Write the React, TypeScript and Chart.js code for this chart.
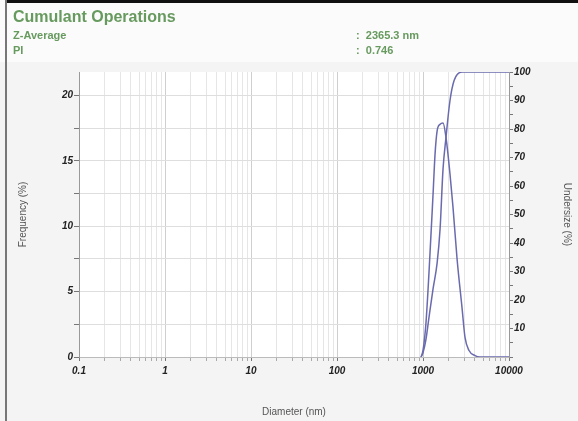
import React, { useEffect, useRef } from "react";
import { Chart, registerables } from "chart.js";

Chart.register(...registerables);

const freqDiameters = [950, 1000, 1080, 1175, 1310, 1380, 1460, 1580, 1710, 1850, 2060, 2230, 2490, 2840, 3080, 3430, 4030, 4600, 10000];
const freqValues = [0, 0.5, 2.5, 6.5, 12.5, 15.5, 17.3, 17.8, 17.9, 16.8, 14.0, 11.5, 7.5, 3.8, 1.5, 0.5, 0.1, 0, 0];
const cumDiameters = [950, 1000, 1080, 1175, 1310, 1460, 1580, 1710, 1850, 2060, 2300, 2840, 10000];
const cumValues = [0, 1.5, 6, 14, 24, 33, 45, 66, 77, 90, 97, 100, 100];

const xTickLabels = ["0.1", "1", "10", "100", "1000", "10000"];
const leftTickLabels = ["0", "5", "10", "15", "20"];
const rightTickLabels = ["10", "20", "30", "40", "50", "60", "70", "80", "90", "100"];

const LINE = "#6a6aae";
const TICKFONT = { family: "'Liberation Sans', Arial, sans-serif", size: 10, weight: "bold" as const, style: "italic" as const };
const TITLEFONT = { family: "'Liberation Sans', Arial, sans-serif", size: 10 };

export default function App() {
  const ref = useRef<HTMLCanvasElement | null>(null);

  useEffect(() => {
    document.body.style.margin = "0";
    const canvas = ref.current;
    if (!canvas) return;

    const bgPlugin = {
      id: "plotBg",
      beforeDraw(chart: any) {
        const { ctx, chartArea } = chart;
        ctx.save();
        ctx.fillStyle = "#ffffff";
        ctx.fillRect(chartArea.left, chartArea.top, chartArea.right - chartArea.left, chartArea.bottom - chartArea.top);
        ctx.restore();
      },
    };

    const isDecade = (v: number) => {
      const l = Math.log10(v);
      return Math.abs(l - Math.round(l)) < 1e-6;
    };

    const chart = new Chart(canvas, {
      type: "line",
      data: {
        datasets: [
          {
            label: "Frequency",
            data: freqDiameters.map((d, i) => ({ x: d, y: freqValues[i] })),
            borderColor: LINE,
            borderWidth: 1.5,
            pointRadius: 0,
            cubicInterpolationMode: "monotone",
            yAxisID: "y",
          },
          {
            label: "Undersize",
            data: cumDiameters.map((d, i) => ({ x: d, y: cumValues[i] })),
            borderColor: LINE,
            borderWidth: 1.5,
            pointRadius: 0,
            cubicInterpolationMode: "monotone",
            yAxisID: "y2",
          },
        ],
      },
      options: {
        animation: false,
        responsive: false,
        maintainAspectRatio: false,
        layout: { padding: { top: 72, left: 0, right: 0, bottom: 0 } },
        plugins: { legend: { display: false }, tooltip: { enabled: false } },
        scales: {
          x: {
            type: "logarithmic",
            position: "bottom",
            min: 0.1,
            max: 10000,
            afterBuildTicks: (s: any) => {
              const t: any[] = [];
              for (let e = -1; e < 4; e++) {
                for (let m = 1; m < 10; m++) t.push({ value: m * Math.pow(10, e) });
              }
              t.push({ value: 10000 });
              s.ticks = t;
            },
            afterFit: (s: any) => { s.height = 64; },
            ticks: {
              autoSkip: false,
              maxRotation: 0,
              minRotation: 0,
              color: "#222",
              font: TICKFONT,
              padding: 4,
              callback: (v: any) => {
                const n = Number(v);
                if (!isDecade(n)) return "";
                const idx = Math.round(Math.log10(n)) + 1;
                return xTickLabels[idx];
              },
            },
            grid: {
              color: (c: any) => (c.tick && isDecade(c.tick.value) ? "#cfcfcf" : "#e6e6e6"),
              lineWidth: 1,
              tickLength: 4,
              tickColor: (c: any) => (c.tick && isDecade(c.tick.value) ? "#777" : "#aaa"),
            },
            border: { color: "#bbbbbb" },
            title: { display: true, text: "Diameter (nm)", color: "#555", font: TITLEFONT, padding: { top: 0, bottom: 3 } },
          },
          y: {
            type: "linear",
            position: "left",
            min: 0,
            max: 21.8,
            afterBuildTicks: (s: any) => {
              const t: any[] = [];
              for (let v = 0; v <= 20; v += 2.5) t.push({ value: v });
              s.ticks = t;
            },
            afterFit: (s: any) => { s.width = 79; },
            ticks: {
              autoSkip: false,
              color: "#222",
              font: TICKFONT,
              padding: 1,
              callback: (v: any) => {
                const n = Number(v);
                return n % 5 === 0 ? leftTickLabels[n / 5] : "";
              },
            },
            grid: {
              color: "#dedede",
              tickLength: 5,
              tickColor: "#777",
            },
            border: { color: "#999" },
            title: { display: true, text: "Frequency (%)", color: "#555", font: TITLEFONT, padding: { top: 17, bottom: 0 } },
          },
          y2: {
            type: "linear",
            position: "right",
            min: 0,
            max: 100,
            afterBuildTicks: (s: any) => {
              const t: any[] = [];
              for (let v = 0; v <= 100; v += 5) t.push({ value: v });
              s.ticks = t;
            },
            afterFit: (s: any) => { s.width = 69; },
            ticks: {
              autoSkip: false,
              color: "#222",
              font: TICKFONT,
              padding: 1,
              callback: (v: any) => {
                const n = Number(v);
                if (n === 0 || n % 10 !== 0) return "";
                return rightTickLabels[n / 10 - 1];
              },
            },
            grid: {
              drawOnChartArea: false,
              tickLength: 4,
              tickColor: "#777",
            },
            border: { color: "#999" },
            title: { display: true, text: "Undersize (%)", color: "#555", font: TITLEFONT, padding: { top: 5, bottom: 0 } },
          },
        },
      },
      plugins: [bgPlugin],
    } as any);

    return () => chart.destroy();
  }, []);

  const green = "#679a5e";
  const hdr: React.CSSProperties = {
    position: "absolute",
    fontFamily: "'Liberation Sans', Arial, sans-serif",
    fontWeight: "bold",
    color: green,
    whiteSpace: "nowrap",
    lineHeight: 1,
  };

  return (
    <div style={{ position: "relative", width: 578, height: 421, background: "#f4f4f4", overflow: "hidden" }}>
      <div style={{ position: "absolute", left: 0, top: 0, width: 578, height: 62, background: "#fbfbfb" }} />
      <canvas ref={ref} width={578} height={421} style={{ position: "absolute", left: 0, top: 0, width: 578, height: 421 }} />
      <div style={{ position: "absolute", left: 5, top: 0, width: 573, height: 3, background: "#111" }} />
      <div style={{ position: "absolute", left: 5, top: 0, width: 2, height: 421, background: "#777" }} />
      <div style={{ ...hdr, left: 13, top: 9, fontSize: 16 }}>Cumulant Operations</div>
      <div style={{ ...hdr, left: 13, top: 30, fontSize: 11 }}>Z-Average</div>
      <div style={{ ...hdr, left: 13, top: 45, fontSize: 11 }}>PI</div>
      <div style={{ ...hdr, left: 356, top: 30, fontSize: 11 }}>:&nbsp;&nbsp;2365.3 nm</div>
      <div style={{ ...hdr, left: 356, top: 45, fontSize: 11 }}>:&nbsp;&nbsp;0.746</div>
    </div>
  );
}
